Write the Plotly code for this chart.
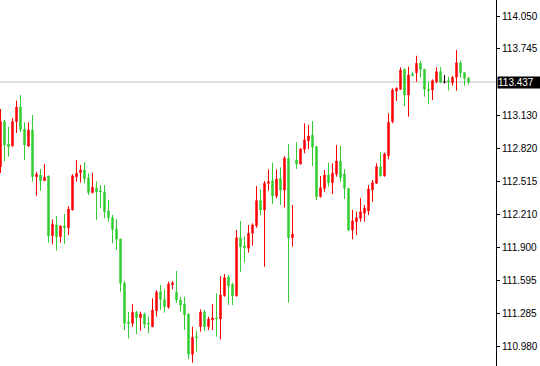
import plotly.graph_objects as go

opens = [112.651, 113.069, 112.862, 112.843, 113.069, 113.205, 113.001, 112.843, 112.992, 112.558,
         112.574, 112.521, 112.565, 112.011, 112.110, 112.001, 112.101, 112.085, 112.249, 112.558,
         112.595, 112.620, 112.546, 112.410, 112.453, 112.428, 112.416, 112.240, 112.178, 112.073,
         111.980, 111.569, 111.209, 111.197, 111.299, 111.249, 111.284, 111.197, 111.166, 111.314,
         111.491, 111.420, 111.346, 111.556, 111.488, 111.414, 111.377, 111.284, 110.910, 111.073,
         111.166, 111.302, 111.166, 111.228, 111.247, 111.237, 111.454, 111.625, 111.559, 111.454,
         111.992, 111.915, 111.893, 112.033, 112.103, 112.336, 112.249, 112.497, 112.521, 112.379,
         112.543, 112.435, 112.729, 111.992, 112.713, 112.676, 112.813, 112.892, 112.945, 112.837,
         112.373, 112.450, 112.574, 112.503, 112.581, 112.704, 112.583, 112.450, 112.063, 112.140,
         112.172, 112.218, 112.240, 112.435, 112.497, 112.651, 112.567, 112.753, 113.069, 113.354,
         113.370, 113.555, 113.317, 113.512, 113.524, 113.611, 113.555, 113.370, 113.363, 113.440,
         113.533, 113.437, 113.449, 113.431, 113.481, 113.616, 113.524, 113.472]
highs = [113.187, 113.085, 113.022, 113.106, 113.264, 113.317, 113.063, 113.063, 113.131, 112.605,
         112.630, 112.676, 112.567, 112.163, 112.193, 112.103, 112.212, 112.286, 112.581, 112.713,
         112.667, 112.695, 112.590, 112.595, 112.516, 112.481, 112.481, 112.342, 112.203, 112.165,
         111.982, 111.590, 111.305, 111.377, 111.312, 111.305, 111.296, 111.259, 111.429, 111.506,
         111.553, 111.513, 111.584, 111.590, 111.683, 111.444, 111.444, 111.286, 111.166, 111.129,
         111.327, 111.321, 111.259, 111.377, 111.476, 111.636, 111.655, 111.646, 111.574, 112.063,
         112.147, 112.001, 112.110, 112.126, 112.472, 112.441, 112.518, 112.627, 112.688, 112.627,
         112.646, 112.750, 112.862, 112.296, 112.878, 112.822, 113.054, 113.038, 113.075, 112.840,
         112.565, 112.620, 112.688, 112.683, 112.853, 112.846, 112.630, 112.452, 112.249, 112.233,
         112.358, 112.296, 112.481, 112.528, 112.683, 112.785, 112.781, 113.147, 113.379, 113.388,
         113.574, 113.564, 113.579, 113.533, 113.681, 113.635, 113.557, 113.440, 113.462, 113.574,
         113.574, 113.502, 113.486, 113.493, 113.734, 113.635, 113.526, 113.486]
lows = [112.593, 112.704, 112.744, 112.840, 112.964, 112.976, 112.713, 112.840, 112.512, 112.382,
        112.428, 112.519, 111.946, 111.931, 111.871, 111.946, 111.934, 112.017, 112.247, 112.512,
        112.503, 112.497, 112.388, 112.404, 112.156, 112.265, 112.172, 112.140, 111.940, 111.878,
        111.491, 111.135, 111.058, 111.166, 111.095, 111.129, 111.151, 111.105, 111.164, 111.259,
        111.321, 111.296, 111.333, 111.513, 111.389, 111.305, 111.135, 110.866, 110.832, 110.934,
        111.119, 111.126, 111.135, 111.135, 111.073, 111.049, 111.444, 111.367, 111.367, 111.444,
        111.676, 111.760, 111.853, 111.918, 112.085, 112.203, 111.723, 112.428, 112.305, 112.358,
        112.296, 112.271, 111.389, 111.908, 112.630, 112.674, 112.775, 112.813, 112.657, 112.342,
        112.364, 112.419, 112.465, 112.395, 112.558, 112.512, 112.351, 112.054, 111.977, 112.017,
        112.140, 112.140, 112.203, 112.326, 112.495, 112.558, 112.558, 112.720, 113.054, 113.261,
        113.368, 113.215, 113.115, 113.487, 113.440, 113.477, 113.301, 113.230, 113.270, 113.425,
        113.425, 113.425, 113.357, 113.403, 113.357, 113.477, 113.403, 113.415]
closes = [113.069, 112.853, 112.837, 113.069, 113.205, 112.998, 112.853, 112.992, 112.558, 112.581,
          112.521, 112.553, 112.008, 112.116, 112.001, 112.101, 112.085, 112.258, 112.567, 112.590,
          112.620, 112.540, 112.410, 112.460, 112.419, 112.419, 112.233, 112.178, 112.070, 111.977,
          111.569, 111.197, 111.197, 111.299, 111.249, 111.284, 111.188, 111.188, 111.321, 111.485,
          111.420, 111.351, 111.562, 111.574, 111.414, 111.367, 111.275, 110.910, 111.067, 111.064,
          111.302, 111.166, 111.237, 111.247, 111.237, 111.460, 111.621, 111.544, 111.451, 111.992,
          111.908, 111.899, 112.033, 112.110, 112.336, 112.249, 112.497, 112.512, 112.379, 112.537,
          112.435, 112.729, 111.992, 112.026, 112.676, 112.815, 112.899, 112.936, 112.831, 112.373,
          112.456, 112.574, 112.503, 112.590, 112.704, 112.549, 112.450, 112.063, 112.147, 112.178,
          112.233, 112.265, 112.444, 112.503, 112.651, 112.567, 112.769, 113.063, 113.363, 113.379,
          113.549, 113.317, 113.502, 113.500, 113.611, 113.555, 113.370, 113.357, 113.449, 113.533,
          113.434, 113.437, 113.440, 113.481, 113.616, 113.524, 113.472, 113.437]

tick_values = [114.050, 113.745, 113.130, 112.820, 112.515, 112.210, 111.900, 111.595, 111.285, 110.980]
tick_labels = ["114.050", "113.745", "113.130", "112.820", "112.515", "112.210", "111.900", "111.595", "111.285", "110.980"]

UP = "#ff0000"
DOWN = "#32cd32"

x = list(range(len(opens)))

fig = go.Figure()
fig.add_trace(go.Candlestick(
    x=x, open=opens, high=highs, low=lows, close=closes,
    increasing=dict(line=dict(color=UP, width=1), fillcolor=UP),
    decreasing=dict(line=dict(color=DOWN, width=1), fillcolor=DOWN),
    whiskerwidth=0, hoverinfo="skip", showlegend=False,
))

doji = [i for i in x if opens[i] == closes[i]]
fig.add_trace(go.Candlestick(
    x=doji, open=[opens[i] for i in doji], high=[highs[i] for i in doji],
    low=[lows[i] for i in doji], close=[closes[i] for i in doji],
    increasing=dict(line=dict(color="black", width=1), fillcolor="black"),
    decreasing=dict(line=dict(color="black", width=1), fillcolor="black"),
    whiskerwidth=0, hoverinfo="skip", showlegend=False,
))

last = closes[-1]
fig.add_shape(type="line", xref="paper", x0=0, x1=1, yref="y", y0=last, y1=last,
              line=dict(color="#c0c0c0", width=1), layer="below")
fig.add_annotation(xref="paper", x=1, xanchor="left", yref="y", y=last, yanchor="middle",
                   text=f"{last:.3f}", showarrow=False, bgcolor="black",
                   font=dict(color="white", size=10, family="Liberation Sans"),
                   borderpad=0, xshift=1, width=42, align="left")

fig.update_layout(
    width=540, height=366,
    margin=dict(l=0, r=44, t=0, b=0),
    paper_bgcolor="white", plot_bgcolor="white",
    boxgap=0.5,
    xaxis=dict(range=[-0.125, 123.875], visible=False, rangeslider=dict(visible=False),
               fixedrange=True),
    yaxis=dict(range=[110.801, 114.1985], side="right", showgrid=False, zeroline=False,
               showline=True, linecolor="black", linewidth=1,
               ticks="outside", ticklen=3, tickcolor="black",
               tickvals=tick_values, ticktext=tick_labels, automargin=False,
               tickfont=dict(family="Liberation Sans", size=10, color="black")),
)

fig.write_html("out.html", config={"displayModeBar": False},
               post_script="document.body.style.margin='0';document.body.style.overflow='hidden';")
